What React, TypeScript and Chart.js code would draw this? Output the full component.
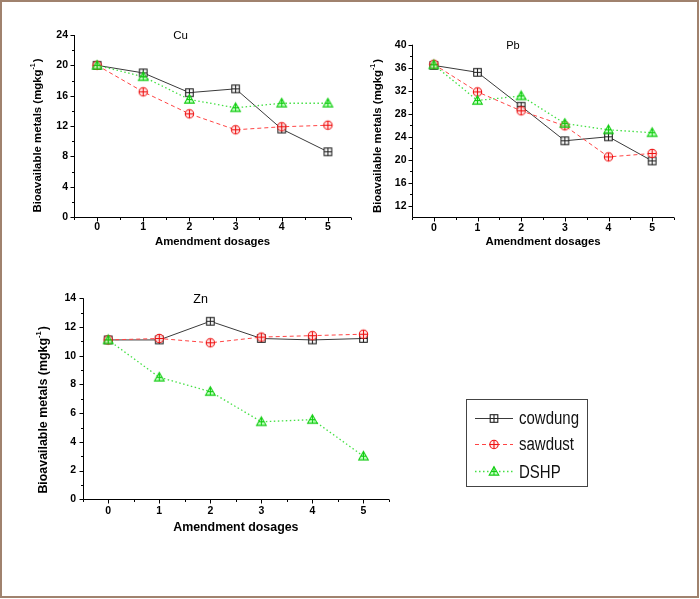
import React, { useEffect, useRef } from "react";
import { Chart, registerables } from "chart.js";

Chart.register(...registerables);

// ---------------- data ----------------
const dosages = [0, 1, 2, 3, 4, 5];
const seriesNames = ["cowdung", "sawdust", "DSHP"];

const cuCowdung = [20.0, 19.0, 16.4, 16.9, 11.6, 8.6];
const cuSawdust = [20.0, 16.5, 13.6, 11.5, 11.9, 12.1];
const cuDSHP = [20.0, 18.5, 15.5, 14.4, 15.0, 15.0];

const pbCowdung = [36.4, 35.2, 29.3, 23.3, 24.0, 19.8];
const pbSawdust = [36.6, 31.8, 28.5, 25.9, 20.5, 21.1];
const pbDSHP = [36.5, 30.3, 31.1, 26.3, 25.2, 24.7];

const znCowdung = [11.1, 11.1, 12.4, 11.2, 11.1, 11.2];
const znSawdust = [11.1, 11.2, 10.9, 11.3, 11.4, 11.5];
const znDSHP = [11.1, 8.5, 7.5, 5.4, 5.55, 3.0];

const cuTicks = [0, 4, 8, 12, 16, 20, 24];
const pbTicks = [12, 16, 20, 24, 28, 32, 36, 40];
const znTicks = [0, 2, 4, 6, 8, 10, 12, 14];

const xTitleText = "Amendment dosages";
const yTitleMain = "Bioavailable metals (mgkg";
const yTitleSup = "-1";
const yTitleEnd = ")";

// ---------------- styles ----------------
const FONT = "'Liberation Sans', Arial, Helvetica, sans-serif";
const seriesStyle = [
  { kind: "square", color: "#222222", line: "#3a3a3a", dash: [] as number[], width: 1 },
  { kind: "circle", color: "#ee1111", line: "#ff4444", dash: [4, 3], width: 1 },
  { kind: "triangle", color: "#11cc11", line: "#44e044", dash: [1.5, 2.5], width: 1.3 },
];

function drawMarker(ctx: CanvasRenderingContext2D, kind: string, color: string, cx: number, cy: number) {
  ctx.save();
  ctx.strokeStyle = color;
  ctx.lineWidth = 1.1;
  ctx.setLineDash([]);
  ctx.beginPath();
  if (kind === "square") {
    ctx.fillStyle = "rgba(255,255,255,0.9)";
    ctx.fillRect(cx - 3.8, cy - 3.8, 7.6, 7.6);
    ctx.strokeRect(cx - 3.8, cy - 3.8, 7.6, 7.6);
    ctx.moveTo(cx, cy - 3.8);
    ctx.lineTo(cx, cy + 3.8);
    ctx.moveTo(cx - 3.8, cy);
    ctx.lineTo(cx + 3.8, cy);
  } else if (kind === "circle") {
    ctx.fillStyle = "rgba(255,230,230,0.9)";
    ctx.arc(cx, cy, 4.2, 0, Math.PI * 2);
    ctx.fill();
    ctx.stroke();
    ctx.beginPath();
    ctx.moveTo(cx, cy - 4.2);
    ctx.lineTo(cx, cy + 4.2);
    ctx.moveTo(cx - 4.2, cy);
    ctx.lineTo(cx + 4.2, cy);
  } else {
    ctx.fillStyle = "rgba(150,255,150,0.55)";
    ctx.moveTo(cx, cy - 4.8);
    ctx.lineTo(cx + 4.8, cy + 3.6);
    ctx.lineTo(cx - 4.8, cy + 3.6);
    ctx.closePath();
    ctx.fill();
    ctx.stroke();
    ctx.beginPath();
    ctx.moveTo(cx, cy - 4.8);
    ctx.lineTo(cx, cy + 3.6);
    ctx.moveTo(cx - 2.6, cy);
    ctx.lineTo(cx + 2.6, cy);
  }
  ctx.stroke();
  ctx.restore();
}

function makeMarkerImage(kind: string, color: string) {
  const c = document.createElement("canvas");
  c.width = 13;
  c.height = 13;
  const ctx = c.getContext("2d")!;
  drawMarker(ctx, kind, color, 6.5, 6.5);
  return c;
}

const decorPlugin = {
  id: "decor",
  beforeDatasetsDraw(chart: any) {
    const { ctx, chartArea: a, scales } = chart;
    const xs = scales.x;
    const ys = scales.y;
    const L = Math.round(a.left) + 0.5;
    const B = Math.round(a.bottom) + 0.5;
    ctx.save();
    ctx.strokeStyle = "#000";
    ctx.lineWidth = 1;
    ctx.setLineDash([]);
    ctx.beginPath();
    ctx.moveTo(L, a.top);
    ctx.lineTo(L, B);
    ctx.lineTo(a.right, B);
    const yv: number[] = ys.ticks.map((t: any) => t.value);
    yv.forEach((v) => {
      const p = Math.round(ys.getPixelForValue(v)) + 0.5;
      ctx.moveTo(L, p);
      ctx.lineTo(L - 4, p);
    });
    for (let i = 0; i < yv.length - 1; i++) {
      const p = Math.round(ys.getPixelForValue((yv[i] + yv[i + 1]) / 2)) + 0.5;
      ctx.moveTo(L, p);
      ctx.lineTo(L - 2.5, p);
    }
    const xv: number[] = xs.ticks.map((t: any) => t.value);
    xv.forEach((v) => {
      const p = Math.round(xs.getPixelForValue(v)) + 0.5;
      ctx.moveTo(p, B);
      ctx.lineTo(p, B + 4);
    });
    for (let i = 0; i <= xv.length; i++) {
      const v = i === 0 ? xv[0] - 0.5 : xv[i - 1] + 0.5;
      if (v > xs.max + 1e-6) continue;
      const p = Math.round(xs.getPixelForValue(v)) + 0.5;
      ctx.moveTo(p, B);
      ctx.lineTo(p, B + 2.5);
    }
    ctx.stroke();
    ctx.restore();
  },
  afterDraw(chart: any) {
    const o = chart.options.plugins.decor;
    const { ctx, chartArea: a } = chart;
    ctx.save();
    ctx.fillStyle = "#000";
    ctx.font = `${o.titleSize}px ${FONT}`;
    ctx.textAlign = "center";
    ctx.textBaseline = "middle";
    ctx.fillText(o.title, a.left + 0.385 * (a.right - a.left), a.top + 1);
    ctx.font = `bold ${o.axisSize}px ${FONT}`;
    ctx.fillText(xTitleText, (a.left + a.right) / 2, a.bottom + o.xTitleDy);
    const cx = a.left - o.yTitleDx;
    const cy = (a.top + a.bottom) / 2 + o.yTitleDy;
    ctx.translate(cx, cy);
    ctx.rotate(-Math.PI / 2);
    ctx.textAlign = "left";
    const mainFont = `bold ${o.axisSize}px ${FONT}`;
    const supFont = `bold ${o.axisSize * 0.62}px ${FONT}`;
    ctx.font = mainFont;
    const w1 = ctx.measureText(yTitleMain).width;
    const w3 = ctx.measureText(yTitleEnd).width;
    ctx.font = supFont;
    const w2 = ctx.measureText(yTitleSup).width;
    let x = -(w1 + w2 + w3 + 1) / 2;
    ctx.font = mainFont;
    ctx.fillText(yTitleMain, x, 0);
    x += w1;
    ctx.font = supFont;
    ctx.fillText(yTitleSup, x, -o.axisSize * 0.42);
    x += w2 + 1;
    ctx.font = mainFont;
    ctx.fillText(yTitleEnd, x, 0);
    ctx.restore();
  },
};

interface Spec {
  title: string;
  series: number[][];
  yMin: number;
  yMax: number;
  yTicks: number[];
  left: number;
  top: number;
  width: number;
  height: number;
  area: { left: number; right: number; top: number; bottom: number };
  tickSize: number;
  yPad: number;
  xPad: number;
  titleSize: number;
  axisSize: number;
  xTitleDy: number;
  yTitleDx: number;
  yTitleDy: number;
}

const specs: Spec[] = [
  {
    title: "Cu",
    series: [cuCowdung, cuSawdust, cuDSHP],
    yMin: 0, yMax: 24, yTicks: cuTicks,
    left: 0, top: 20, width: 360, height: 240,
    area: { left: 74, right: 9, top: 15, bottom: 43 },
    tickSize: 10.5, yPad: 6, xPad: 4,
    titleSize: 11.5, axisSize: 11.4, xTitleDy: 25, yTitleDx: 36, yTitleDy: 9.5,
  },
  {
    title: "Pb",
    series: [pbCowdung, pbSawdust, pbDSHP],
    yMin: 10, yMax: 40, yTicks: pbTicks,
    left: 360, top: 20, width: 330, height: 240,
    area: { left: 52, right: 16, top: 24.7, bottom: 42.7 },
    tickSize: 10.5, yPad: 5.5, xPad: 5,
    titleSize: 11, axisSize: 11.4, xTitleDy: 24.7, yTitleDx: 34, yTitleDy: 5,
  },
  {
    title: "Zn",
    series: [znCowdung, znSawdust, znDSHP],
    yMin: 0, yMax: 14, yTicks: znTicks,
    left: 0, top: 270, width: 400, height: 280,
    area: { left: 82.7, right: 11, top: 28.3, bottom: 50.7 },
    tickSize: 10.5, yPad: 6.5, xPad: 6,
    titleSize: 12.5, axisSize: 12.4, xTitleDy: 28.7, yTitleDx: 38.7, yTitleDy: 11,
  },
];

function buildConfig(s: Spec): any {
  const datasets = s.series.map((vals, i) => {
    const st = seriesStyle[i];
    return {
      label: seriesNames[i],
      data: dosages.map((d, j) => ({ x: d, y: vals[j] })),
      borderColor: st.line,
      borderWidth: st.width,
      borderDash: st.dash,
      backgroundColor: st.color,
      pointStyle: makeMarkerImage(st.kind, st.color),
      pointRadius: 5,
      tension: 0,
      fill: false,
      order: 2 - i,
      clip: false,
    };
  });
  const tickFont = { family: FONT, size: s.tickSize, weight: "bold" as const };
  return {
    type: "line",
    data: { datasets },
    options: {
      animation: false,
      responsive: false,
      maintainAspectRatio: false,
      events: [],
      layout: { padding: { left: 0, right: s.area.right, top: s.area.top, bottom: 0 } },
      plugins: {
        legend: { display: false },
        title: { display: false },
        tooltip: { enabled: false },
        decor: {
          title: s.title,
          titleSize: s.titleSize,
          axisSize: s.axisSize,
          xTitleDy: s.xTitleDy,
          yTitleDx: s.yTitleDx,
          yTitleDy: s.yTitleDy,
        },
      },
      scales: {
        x: {
          type: "linear",
          min: -0.5,
          max: 5.5,
          afterFit: (sc: any) => { sc.height = s.area.bottom; },
          afterBuildTicks: (sc: any) => { sc.ticks = dosages.map((v) => ({ value: v })); },
          grid: { display: false, drawTicks: false },
          border: { display: false },
          ticks: { padding: s.xPad, font: tickFont, color: "#000", autoSkip: false, maxRotation: 0, callback: (v: any) => String(v) },
        },
        y: {
          type: "linear",
          min: s.yMin,
          max: s.yMax,
          afterFit: (sc: any) => { sc.width = s.area.left; },
          afterBuildTicks: (sc: any) => { sc.ticks = s.yTicks.map((v) => ({ value: v })); },
          grid: { display: false, drawTicks: false },
          border: { display: false },
          ticks: { padding: s.yPad, font: tickFont, color: "#000", autoSkip: false, callback: (v: any) => String(v) },
        },
      },
    },
    plugins: [decorPlugin],
  };
}

function PlotCanvas({ spec }: { spec: Spec }) {
  const ref = useRef<HTMLCanvasElement>(null);
  useEffect(() => {
    if (!ref.current) return;
    const chart = new Chart(ref.current, buildConfig(spec));
    return () => chart.destroy();
  }, [spec]);
  return (
    <canvas
      ref={ref}
      width={spec.width}
      height={spec.height}
      style={{ position: "absolute", left: spec.left, top: spec.top, width: spec.width, height: spec.height }}
    />
  );
}

const legendBox = { left: 466, top: 399, width: 122, height: 88 };
const legendRowsY = [418, 444, 471];
const legendBaselines = [423.5, 450, 477.5];

function LegendSamples() {
  const ref = useRef<HTMLCanvasElement>(null);
  useEffect(() => {
    const c = ref.current;
    if (!c) return;
    const ctx = c.getContext("2d")!;
    ctx.clearRect(0, 0, c.width, c.height);
    seriesStyle.forEach((st, i) => {
      const y = legendRowsY[i] - legendBox.top;
      ctx.save();
      ctx.strokeStyle = st.line;
      ctx.lineWidth = st.width;
      ctx.setLineDash(st.dash);
      ctx.beginPath();
      ctx.moveTo(9, Math.round(y) + 0.5);
      ctx.lineTo(47, Math.round(y) + 0.5);
      ctx.stroke();
      ctx.restore();
      drawMarker(ctx, st.kind, st.color, 28, Math.round(y) + 0.5);
    });
  }, []);
  return (
    <canvas
      ref={ref}
      width={legendBox.width}
      height={legendBox.height}
      style={{ position: "absolute", left: legendBox.left, top: legendBox.top, width: legendBox.width, height: legendBox.height }}
    />
  );
}

export default function App() {
  return (
    <div style={{ position: "absolute", left: 0, top: 0, width: 700, height: 599, background: "#fff", overflow: "hidden" }}>
      {specs.map((s) => (
        <PlotCanvas key={s.title} spec={s} />
      ))}
      <div
        style={{
          position: "absolute",
          left: legendBox.left,
          top: legendBox.top,
          width: legendBox.width,
          height: legendBox.height,
          boxSizing: "border-box",
          border: "1px solid #444",
        }}
      />
      <LegendSamples />
      {seriesNames.map((n, i) => (
        <span
          key={n}
          style={{
            position: "absolute",
            left: 519,
            top: legendBaselines[i] - 12.7,
            fontFamily: FONT,
            fontSize: 15,
            lineHeight: "15px",
            color: "#111",
            whiteSpace: "nowrap",
            transform: "scaleY(1.2)",
            transformOrigin: "0 12.7px",
          }}
        >
          {n}
        </span>
      ))}
      <div
        style={{
          position: "absolute",
          left: 0,
          top: 0,
          width: 699,
          height: 598,
          boxSizing: "border-box",
          border: "2px solid #a0826e",
          pointerEvents: "none",
        }}
      />
    </div>
  );
}
